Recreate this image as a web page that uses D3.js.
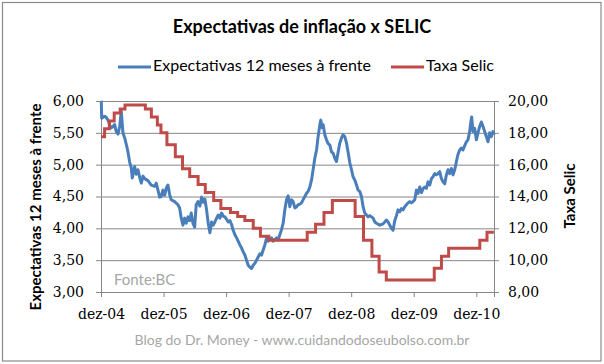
<!DOCTYPE html>
<html>
<head>
<meta charset="utf-8">
<script src="https://cdn.jsdelivr.net/npm/d3@7"></script>
<style>
  html, body { margin: 0; padding: 0; background: #fff; }
  svg { display: block; }
</style>
</head>
<body>
<svg id="chart" width="604" height="364"></svg>
<script>
// ---- DATA ----
const chartTitle = "Expectativas de inflação x SELIC";
const seriesNames = ["Expectativas 12 meses à frente", "Taxa Selic"];
const leftAxisTitle = "Expectativas 12 meses à frente";
const rightAxisTitle = "Taxa Selic";
const sourceNote = "Fonte:BC";
const footerNote = "Blog do Dr. Money - www.cuidandodoseubolso.com.br";

// x axis: years measured from the first observation (dez-04)
const xTickYears = [2005, 2006, 2007, 2008, 2009, 2010, 2011];
const xTickLabels = ["dez-04", "dez-05", "dez-06", "dez-07", "dez-08", "dez-09", "dez-10"];
const xDomain = [2005, 2011.283];
const leftTicks = [3.0, 3.5, 4.0, 4.5, 5.0, 5.5, 6.0];
const rightTicks = [8, 10, 12, 14, 16, 18, 20];

// Expectativas 12 meses à frente: [time (years since dez-04 origin), value %]
const expectativas = [
  [2005.000, 6.00],[2005.005, 5.99],[2005.011, 5.73],[2005.059, 5.76],[2005.085, 5.74],
  [2005.112, 5.70],[2005.139, 5.62],[2005.165, 5.58],[2005.192, 5.60],[2005.219, 5.63],
  [2005.244, 5.52],[2005.272, 5.48],[2005.299, 5.60],[2005.324, 5.84],[2005.351, 5.50],
  [2005.379, 5.42],[2005.404, 5.32],[2005.431, 5.20],[2005.458, 5.04],[2005.484, 4.95],
  [2005.500, 4.79],[2005.538, 4.97],[2005.564, 4.85],[2005.591, 4.92],[2005.618, 4.80],
  [2005.644, 4.71],[2005.671, 4.82],[2005.698, 4.78],[2005.751, 4.75],[2005.803, 4.68],
  [2005.858, 4.66],[2005.883, 4.71],[2005.911, 4.60],[2005.938, 4.49],[2005.963, 4.50],
  [2005.990, 4.60],[2006.018, 4.52],[2006.043, 4.63],[2006.070, 4.68],[2006.097, 4.53],
  [2006.123, 4.45],[2006.177, 4.42],[2006.230, 4.37],[2006.257, 4.32],[2006.283, 4.16],
  [2006.310, 4.05],[2006.337, 4.16],[2006.363, 4.08],[2006.390, 4.18],[2006.417, 4.12],
  [2006.442, 4.24],[2006.470, 4.08],[2006.497, 4.02],[2006.522, 4.37],[2006.549, 4.42],
  [2006.581, 4.35],[2006.609, 4.49],[2006.634, 4.41],[2006.661, 4.46],[2006.688, 4.29],
  [2006.714, 4.08],[2006.741, 3.93],[2006.768, 4.10],[2006.794, 4.05],[2006.821, 4.10],
  [2006.848, 4.16],[2006.874, 4.21],[2006.901, 4.16],[2006.928, 4.24],[2006.954, 4.19],
  [2006.981, 4.18],[2007.008, 4.14],[2007.034, 4.10],[2007.061, 4.12],[2007.088, 4.06],
  [2007.113, 3.97],[2007.141, 3.90],[2007.168, 3.85],[2007.193, 3.80],[2007.220, 3.74],
  [2007.248, 3.69],[2007.273, 3.63],[2007.300, 3.58],[2007.327, 3.50],[2007.353, 3.42],
  [2007.380, 3.39],[2007.407, 3.37],[2007.433, 3.42],[2007.460, 3.45],[2007.487, 3.50],
  [2007.513, 3.55],[2007.540, 3.60],[2007.567, 3.58],[2007.593, 3.66],[2007.620, 3.74],
  [2007.647, 3.85],[2007.672, 3.80],[2007.700, 3.82],[2007.727, 3.85],[2007.752, 3.80],
  [2007.779, 3.82],[2007.807, 3.85],[2007.832, 3.82],[2007.859, 3.90],[2007.886, 3.98],
  [2007.912, 4.08],[2007.939, 4.29],[2007.966, 4.45],[2007.992, 4.51],[2008.019, 4.34],
  [2008.046, 4.45],[2008.072, 4.42],[2008.099, 4.32],[2008.126, 4.34],[2008.152, 4.37],
  [2008.179, 4.38],[2008.206, 4.40],[2008.232, 4.45],[2008.259, 4.50],[2008.286, 4.55],
  [2008.311, 4.58],[2008.339, 4.65],[2008.366, 4.76],[2008.391, 4.92],[2008.418, 5.10],
  [2008.446, 5.23],[2008.471, 5.44],[2008.498, 5.62],[2008.514, 5.70],[2008.535, 5.58],
  [2008.551, 5.63],[2008.578, 5.47],[2008.605, 5.39],[2008.631, 5.33],[2008.658, 5.31],
  [2008.685, 5.20],[2008.711, 5.18],[2008.738, 5.10],[2008.765, 5.05],[2008.791, 5.20],
  [2008.818, 5.34],[2008.845, 5.42],[2008.870, 5.47],[2008.898, 5.44],[2008.925, 5.34],
  [2008.950, 5.20],[2008.978, 5.03],[2009.005, 4.92],[2009.030, 4.81],[2009.057, 4.76],
  [2009.085, 4.68],[2009.110, 4.60],[2009.137, 4.58],[2009.164, 4.50],[2009.190, 4.34],
  [2009.217, 4.24],[2009.244, 4.21],[2009.270, 4.18],[2009.297, 4.20],[2009.324, 4.18],
  [2009.350, 4.16],[2009.377, 4.10],[2009.404, 4.08],[2009.457, 4.05],[2009.510, 4.07],
  [2009.564, 4.13],[2009.589, 4.10],[2009.616, 4.05],[2009.644, 4.00],[2009.669, 3.97],
  [2009.696, 4.12],[2009.723, 4.20],[2009.749, 4.29],[2009.776, 4.26],[2009.803, 4.31],
  [2009.829, 4.29],[2009.856, 4.34],[2009.883, 4.37],[2009.909, 4.40],[2009.936, 4.42],
  [2009.963, 4.40],[2009.989, 4.42],[2010.016, 4.45],[2010.043, 4.60],[2010.069, 4.55],
  [2010.096, 4.65],[2010.123, 4.56],[2010.148, 4.62],[2010.176, 4.65],[2010.203, 4.63],
  [2010.228, 4.73],[2010.255, 4.68],[2010.283, 4.78],[2010.308, 4.81],[2010.335, 4.86],
  [2010.362, 4.84],[2010.388, 4.86],[2010.415, 4.89],[2010.442, 4.78],[2010.468, 4.73],
  [2010.495, 4.70],[2010.522, 4.84],[2010.548, 4.92],[2010.575, 4.86],[2010.602, 4.94],
  [2010.628, 4.84],[2010.655, 4.92],[2010.682, 5.05],[2010.707, 5.16],[2010.735, 5.23],
  [2010.762, 5.26],[2010.787, 5.23],[2010.815, 5.30],[2010.842, 5.36],[2010.867, 5.39],
  [2010.894, 5.52],[2010.910, 5.65],[2010.926, 5.75],[2010.947, 5.52],[2010.974, 5.57],
  [2011.001, 5.39],[2011.027, 5.50],[2011.054, 5.60],[2011.081, 5.67],[2011.107, 5.60],
  [2011.134, 5.52],[2011.161, 5.44],[2011.187, 5.36],[2011.214, 5.50],[2011.241, 5.44],
  [2011.267, 5.52],[2011.283, 5.47]
];

// Taxa Selic: dates from which each rate applies
const selicDates = [
  "2004-12-30","2005-01-20","2005-02-17","2005-03-17","2005-04-21","2005-05-19",
  "2005-09-15","2005-10-20","2005-11-24","2005-12-15","2006-01-19","2006-03-09",
  "2006-04-20","2006-06-01","2006-07-20","2006-08-31","2006-10-19","2006-11-30",
  "2007-01-25","2007-03-08","2007-04-19","2007-06-07","2007-07-19","2007-09-06",
  "2008-04-17","2008-06-05","2008-07-24","2008-09-11","2009-01-22","2009-03-12",
  "2009-04-30","2009-06-11","2009-07-23","2010-04-29","2010-06-10","2010-07-22",
  "2011-01-20","2011-03-03","2011-04-12"
];
const selicValues = [
  17.75, 18.25, 18.75, 19.25, 19.50, 19.75,
  19.50, 19.00, 18.50, 18.00, 17.25, 16.50,
  15.75, 15.25, 14.75, 14.25, 13.75, 13.25,
  13.00, 12.75, 12.50, 12.00, 11.50, 11.25,
  11.75, 12.25, 13.00, 13.75, 12.75, 11.25,
  10.25, 9.25, 8.75, 9.50, 10.25, 10.75,
  11.25, 11.75, 11.75
];

// ---- CHART ----
const origin = Date.UTC(2004, 11, 30);
const toYears = s => {
  const p = s.split("-").map(Number);
  return 2005 + (Date.UTC(p[0], p[1] - 1, p[2]) - origin) / (365.25 * 864e5);
};
const selic = selicDates.map((d, i) => [toYears(d), selicValues[i]]);

const svg = d3.select("#chart");
const W = 604, H = 364;
const plot = { left: 101, right: 494, top: 101, bottom: 292 };
const axisGray = "#868686";
const blue = "#4a7ebb";
const red = "#be4b48";

svg.append("rect").attr("x", 0).attr("y", 0).attr("width", W).attr("height", H).attr("fill", "#fff");
svg.append("rect").attr("x", 2.5).attr("y", 2.5).attr("width", 598.5).attr("height", 358.5)
  .attr("fill", "none").attr("stroke", "#8a8a8a").attr("stroke-width", 1.2);

const x = d3.scaleLinear().domain(xDomain).range([plot.left, plot.right]);
const yL = d3.scaleLinear().domain([3, 6]).range([plot.bottom, plot.top]);
const yR = d3.scaleLinear().domain([8, 20]).range([plot.bottom, plot.top]);
const fmt = d => d3.format(".2f")(d).replace(".", ",");

// gridlines
svg.append("g").attr("transform", `translate(${plot.left},0)`)
  .call(d3.axisLeft(yL).tickValues(leftTicks.slice(1)).tickSize(-(plot.right - plot.left)).tickFormat(""))
  .call(g => g.select(".domain").remove())
  .call(g => g.selectAll("line").attr("stroke", axisGray).attr("stroke-width", 1));

const tickFont = "'DejaVu Serif', serif";

// left axis
svg.append("g").attr("transform", `translate(${plot.left},0)`)
  .call(d3.axisLeft(yL).tickValues(leftTicks).tickSize(5).tickPadding(12).tickFormat(fmt))
  .call(g => g.select(".domain").attr("stroke", axisGray))
  .call(g => g.selectAll("line").attr("stroke", axisGray))
  .call(g => g.selectAll("text").attr("font-family", tickFont).attr("font-size", 14).attr("fill", "#000"));

// right axis
svg.append("g").attr("transform", `translate(${plot.right},0)`)
  .call(d3.axisRight(yR).tickValues(rightTicks).tickSize(5).tickPadding(9).tickFormat(fmt))
  .call(g => g.select(".domain").attr("stroke", axisGray))
  .call(g => g.selectAll("line").attr("stroke", axisGray))
  .call(g => g.selectAll("text").attr("font-family", tickFont).attr("font-size", 14).attr("fill", "#000"));

// bottom axis
svg.append("g").attr("transform", `translate(0,${plot.bottom})`)
  .call(d3.axisBottom(x).tickValues(xTickYears).tickSize(5).tickPadding(12).tickFormat((d, i) => xTickLabels[i]))
  .call(g => g.select(".domain").attr("stroke", axisGray))
  .call(g => g.selectAll("line").attr("stroke", axisGray))
  .call(g => g.selectAll("text").attr("font-family", tickFont).attr("font-size", 14).attr("fill", "#000"));

// series
svg.append("path").datum(expectativas)
  .attr("fill", "none").attr("stroke", blue).attr("stroke-width", 3)
  .attr("stroke-linejoin", "round")
  .attr("d", d3.line().x(d => x(d[0])).y(d => yL(d[1])));

svg.append("path").datum(selic)
  .attr("fill", "none").attr("stroke", red).attr("stroke-width", 3)
  .attr("d", d3.line().curve(d3.curveStepAfter).x(d => x(d[0])).y(d => yR(d[1])));

// texts
const sans = "Lato, 'Open Sans', sans-serif";
svg.append("text").attr("x", 302).attr("y", 28).attr("text-anchor", "middle")
  .attr("dominant-baseline", "middle").attr("font-family", sans).attr("font-weight", 700)
  .attr("font-size", 18).attr("fill", "#000").text(chartTitle);

// legend
const legend = [
  { name: seriesNames[0], color: blue, x0: 118 },
  { name: seriesNames[1], color: red, x0: 391 }
];
legend.forEach(l => {
  svg.append("line").attr("x1", l.x0).attr("x2", l.x0 + 33).attr("y1", 67).attr("y2", 67)
    .attr("stroke", l.color).attr("stroke-width", 3);
  svg.append("text").attr("x", l.x0 + 35).attr("y", 67).attr("dominant-baseline", "middle")
    .attr("font-family", sans).attr("font-size", 16).attr("fill", "#000").text(l.name);
});

svg.append("text").attr("transform", "translate(37,207) rotate(-90)").attr("text-anchor", "middle")
  .attr("dominant-baseline", "middle").attr("font-family", sans).attr("font-weight", 700)
  .attr("font-size", 15).attr("fill", "#000").text(leftAxisTitle);

svg.append("text").attr("transform", "translate(571,196) rotate(-90)").attr("text-anchor", "middle")
  .attr("dominant-baseline", "middle").attr("font-family", sans).attr("font-weight", 700)
  .attr("font-size", 15).attr("fill", "#000").text(rightAxisTitle);

svg.append("text").attr("x", 114).attr("y", 281).attr("dominant-baseline", "middle")
  .attr("font-family", sans).attr("font-size", 15).attr("fill", "#a6a6a6").text(sourceNote);

svg.append("text").attr("x", 302).attr("y", 341).attr("text-anchor", "middle")
  .attr("dominant-baseline", "middle").attr("font-family", sans).attr("font-size", 14)
  .attr("fill", "#a6a6a6").text(footerNote);
</script>
</body>
</html>
